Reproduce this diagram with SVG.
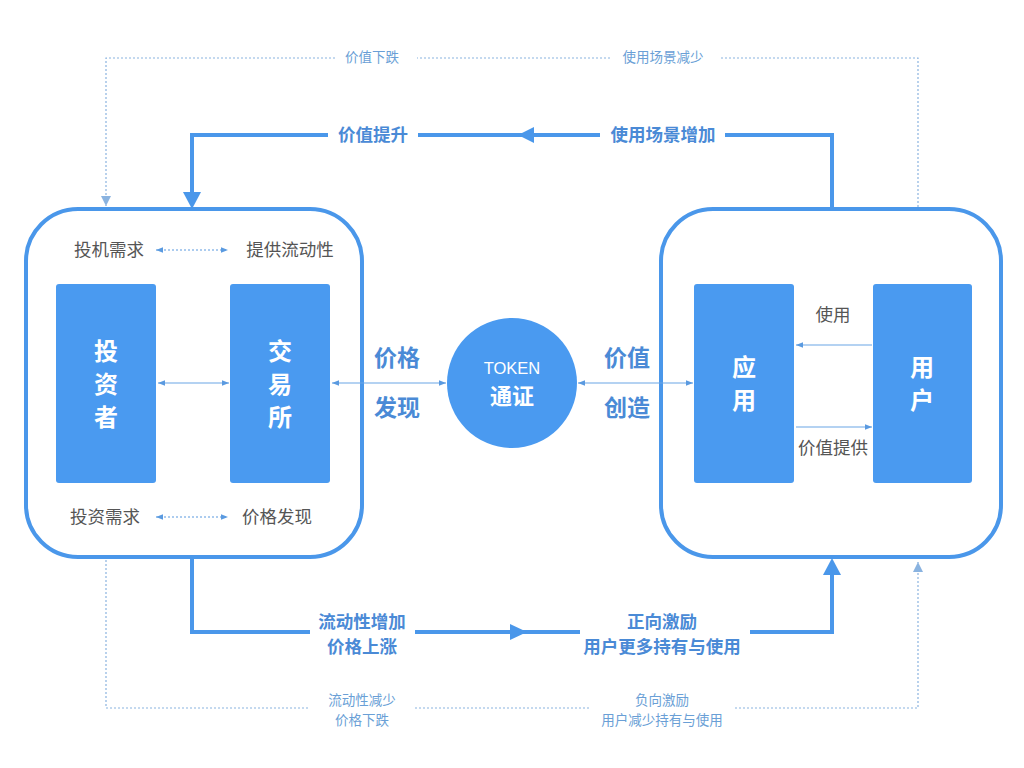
<svg xmlns="http://www.w3.org/2000/svg" width="1024" height="768" viewBox="0 0 1024 768">
<defs>
<style>
.frame{fill:#fff;stroke:#4a97ea;stroke-width:4}
.blk{fill:#4a9af0}
.bt{font-family:"Noto Sans CJK SC","Liberation Sans",sans-serif;font-size:24px;font-weight:bold;fill:#fff;text-anchor:middle}
.gt{font-family:"Noto Sans CJK SC","Liberation Sans",sans-serif;font-size:17.5px;fill:#555;text-anchor:middle}
.lt{font-family:"Noto Sans CJK SC","Liberation Sans",sans-serif;font-size:23px;font-weight:bold;fill:#4a8ad6;text-anchor:middle}
.mt{font-family:"Noto Sans CJK SC","Liberation Sans",sans-serif;font-size:17.5px;font-weight:bold;fill:#4a8ad6;text-anchor:middle}
.st{font-family:"Noto Sans CJK SC","Liberation Sans",sans-serif;font-size:13.5px;fill:#6a9fd6;text-anchor:middle}
.thick{fill:none;stroke:#4a97ea;stroke-width:4}
.dot{fill:none;stroke:#8ab3e0;stroke-width:1.2;stroke-dasharray:2 2}
.thin{fill:none;stroke:#6aa5e6;stroke-width:1.2}
.thindot{fill:none;stroke:#5a9ae0;stroke-width:1.2;stroke-dasharray:2 2}
</style>
<marker id="ah" viewBox="0 0 10 10" refX="10" refY="5" markerWidth="7" markerHeight="7" orient="auto-start-reverse" markerUnits="userSpaceOnUse"><path d="M0,1 L10,5 L0,9 z" fill="#5a9ae0"/></marker>
<marker id="ahd" viewBox="0 0 10 10" refX="10" refY="5" markerWidth="10" markerHeight="10" orient="auto" markerUnits="userSpaceOnUse"><path d="M0,0 L10,5 L0,10 z" fill="#8ab3e0"/></marker>
</defs>
<rect width="1024" height="768" fill="#fff"/>

<g id="left-group">
  <rect class="frame" x="26" y="209" width="336" height="348" rx="52"/>
  <text class="gt" x="109" y="256">投机需求</text>
  <text class="gt" x="290" y="256">提供流动性</text>
  <text class="gt" x="105" y="523">投资需求</text>
  <text class="gt" x="277" y="523">价格发现</text>
</g>
<g id="right-group">
  <rect class="frame" x="661" y="209" width="340" height="348" rx="52"/>
  <text class="gt" x="833" y="321">使用</text>
  <text class="gt" x="833" y="454">价值提供</text>
</g>

<g id="connectors">
  <!-- top dotted loop -->
  <path class="dot" d="M918,207 V58 H720"/>
  <path class="dot" d="M610,58 H417"/>
  <path class="dot" d="M335,58 H106 V206" marker-end="url(#ahd)"/>
  <!-- bottom dotted loop -->
  <path class="dot" d="M106,560 V708 H310"/>
  <path class="dot" d="M415,708 H590"/>
  <path class="dot" d="M735,708 H918 V562" marker-end="url(#ahd)"/>
  <!-- top solid loop -->
  <path class="thick" d="M832,207 V135 H725"/>
  <path class="thick" d="M600,135 H418"/>
  <path fill="#4a97ea" d="M518,135 L534,127 L534,143 z"/>
  <path class="thick" d="M328,135 H192 V195"/>
  <path fill="#4a97ea" d="M183,192 L201,192 L192,209 z"/>
  <!-- bottom solid loop -->
  <path class="thick" d="M192,559 V632 H310"/>
  <path class="thick" d="M415,632 H580"/>
  <path fill="#4a97ea" d="M527,632 L510,624 L510,640 z"/>
  <path class="thick" d="M750,632 H832 V572"/>
  <path fill="#4a97ea" d="M823,575 L841,575 L832,558 z"/>
  <!-- thin arrows -->
  <path class="thin" d="M158,383 H229" marker-start="url(#ah)" marker-end="url(#ah)"/>
  <path class="thin" d="M332,383 H446" marker-start="url(#ah)" marker-end="url(#ah)"/>
  <path class="thin" d="M578,383 H693" marker-start="url(#ah)" marker-end="url(#ah)"/>
  <path class="thin" d="M872,345 H796" marker-end="url(#ah)"/>
  <path class="thin" d="M796,427 H872" marker-end="url(#ah)"/>
  <path class="thindot" d="M156,250 H228" marker-start="url(#ah)" marker-end="url(#ah)"/>
  <path class="thindot" d="M156,517 H228" marker-start="url(#ah)" marker-end="url(#ah)"/>
  <!-- loop labels -->
  <text class="st" x="372" y="62">价值下跌</text>
  <text class="st" x="663" y="62">使用场景减少</text>
  <text class="mt" x="373" y="141">价值提升</text>
  <text class="mt" x="663" y="141">使用场景增加</text>
  <text class="mt" x="362" y="628">流动性增加</text>
  <text class="mt" x="362" y="653">价格上涨</text>
  <text class="mt" x="662" y="628">正向激励</text>
  <text class="mt" x="662" y="653">用户更多持有与使用</text>
  <text class="st" x="362" y="705">流动性减少</text>
  <text class="st" x="362" y="725">价格下跌</text>
  <text class="st" x="662" y="705">负向激励</text>
  <text class="st" x="662" y="725">用户减少持有与使用</text>
  <text class="lt" x="397" y="366">价格</text>
  <text class="lt" x="397" y="416">发现</text>
  <text class="lt" x="627" y="366">价值</text>
  <text class="lt" x="627" y="416">创造</text>
</g>

<g id="investor">
  <rect class="blk" x="56" y="284" width="100" height="199" rx="3"/>
  <text class="bt" x="106" y="360">投</text>
  <text class="bt" x="106" y="393">资</text>
  <text class="bt" x="106" y="426">者</text>
</g>
<g id="exchange">
  <rect class="blk" x="230" y="284" width="100" height="199" rx="3"/>
  <text class="bt" x="280" y="360">交</text>
  <text class="bt" x="280" y="393">易</text>
  <text class="bt" x="280" y="426">所</text>
</g>
<g id="token">
  <circle cx="512" cy="383" r="65" fill="#4a9af0"/>
  <text x="512" y="374" font-family="'Liberation Sans',sans-serif" font-size="16.5" fill="#fff" text-anchor="middle">TOKEN</text>
  <text x="512" y="404" font-family="'Noto Sans CJK SC',sans-serif" font-size="22" font-weight="bold" fill="#fff" text-anchor="middle">通证</text>
</g>
<g id="app">
  <rect class="blk" x="694" y="284" width="100" height="199" rx="3"/>
  <text class="bt" x="744" y="376">应</text>
  <text class="bt" x="744" y="409">用</text>
</g>
<g id="user">
  <rect class="blk" x="873" y="284" width="99" height="199" rx="3"/>
  <text class="bt" x="922" y="376">用</text>
  <text class="bt" x="922" y="409">户</text>
</g>
</svg>
